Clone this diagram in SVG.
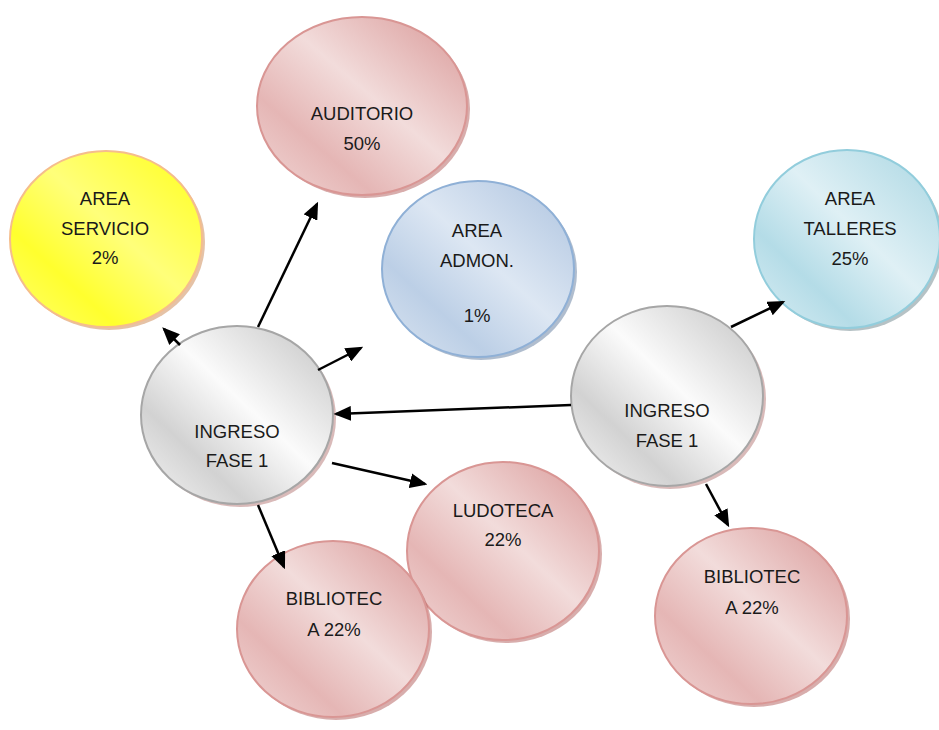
<svg xmlns="http://www.w3.org/2000/svg" width="939" height="730" viewBox="0 0 939 730">
<defs>
<linearGradient id="gPink" x1="1" y1="0" x2="0" y2="1">
<stop offset="0" stop-color="#d99897"/>
<stop offset="0.45" stop-color="#f2dcdb"/>
<stop offset="0.72" stop-color="#e5b6b5"/>
<stop offset="1" stop-color="#f1d8d7"/>
</linearGradient>
<linearGradient id="gGray" x1="1" y1="0" x2="0" y2="1">
<stop offset="0" stop-color="#c2c2c2"/>
<stop offset="0.45" stop-color="#fbfbfb"/>
<stop offset="0.72" stop-color="#d2d2d2"/>
<stop offset="1" stop-color="#f6f6f6"/>
</linearGradient>
<linearGradient id="gYellow" x1="1" y1="0" x2="0" y2="1">
<stop offset="0" stop-color="#ffff1a"/>
<stop offset="0.45" stop-color="#ffff7a"/>
<stop offset="0.72" stop-color="#ffff2e"/>
<stop offset="1" stop-color="#ffff6e"/>
</linearGradient>
<linearGradient id="gBlue" x1="1" y1="0" x2="0" y2="1">
<stop offset="0" stop-color="#adc3df"/>
<stop offset="0.45" stop-color="#dde7f3"/>
<stop offset="0.72" stop-color="#bccfe6"/>
<stop offset="1" stop-color="#dbe5f1"/>
</linearGradient>
<linearGradient id="gTeal" x1="1" y1="0" x2="0" y2="1">
<stop offset="0" stop-color="#a9d6e2"/>
<stop offset="0.45" stop-color="#dff0f5"/>
<stop offset="0.72" stop-color="#b4dce7"/>
<stop offset="1" stop-color="#dbeef4"/>
</linearGradient>
<marker id="ah" viewBox="0 0 7 6" refX="6" refY="3" markerWidth="7" markerHeight="6" orient="auto" markerUnits="strokeWidth">
<path d="M0,0 L7,3 L0,6 z" fill="#000"/>
</marker>
<style>
.pink{fill:url(#gPink);stroke:#d99694;stroke-width:2}
.gray{fill:url(#gGray);stroke:#a6a6a6;stroke-width:2}
.yellow{fill:url(#gYellow);stroke:#f5bd8c;stroke-width:2}
.blue{fill:url(#gBlue);stroke:#8fb0d6;stroke-width:2}
.teal{fill:url(#gTeal);stroke:#92cddc;stroke-width:2}
.sh-pink{fill:#b86a68;opacity:0.55}
.sh-gray{fill:#c08c8a;opacity:0.6}
.sh-yellow{fill:#d39a6a;opacity:0.6}
.sh-blue{fill:#6f86a6;opacity:0.55}
.sh-teal{fill:#7a8f95;opacity:0.55}
text{font-family:"Liberation Sans",Arial,sans-serif;font-size:18.5px;fill:#1a1a1a;text-anchor:middle}
.conn line{stroke:#000;stroke-width:2.5;marker-end:url(#ah)}
</style>
</defs>
<rect width="939" height="730" fill="#fff"/>

<g id="auditorio">
<ellipse class="sh-pink" cx="365" cy="109" rx="105" ry="89"/>
<ellipse class="pink" cx="362" cy="106" rx="105" ry="89"/>
<text x="362" y="120">AUDITORIO</text>
<text x="362" y="150">50%</text>
</g>

<g id="area-servicio">
<ellipse class="sh-yellow" cx="109" cy="242" rx="96" ry="88"/>
<ellipse class="yellow" cx="106" cy="239" rx="96" ry="88"/>
<text x="105" y="205">AREA</text>
<text x="105" y="235">SERVICIO</text>
<text x="105" y="264">2%</text>
</g>

<g id="area-admon">
<ellipse class="sh-blue" cx="481" cy="272" rx="96" ry="88"/>
<ellipse class="blue" cx="478" cy="269" rx="96" ry="88"/>
<text x="477" y="237">AREA</text>
<text x="477" y="267">ADMON.</text>
<text x="477" y="322">1%</text>
</g>

<g id="area-talleres">
<ellipse class="sh-teal" cx="850" cy="242" rx="93" ry="89"/>
<ellipse class="teal" cx="847" cy="239" rx="93" ry="89"/>
<text x="850" y="205">AREA</text>
<text x="850" y="235">TALLERES</text>
<text x="850" y="265">25%</text>
</g>

<g id="ingreso-1">
<ellipse class="sh-gray" cx="240" cy="418" rx="96" ry="89"/>
<ellipse class="gray" cx="237" cy="415" rx="96" ry="89"/>
<text x="237" y="438">INGRESO</text>
<text x="237" y="467">FASE 1</text>
</g>

<g id="ingreso-2">
<ellipse class="sh-gray" cx="670" cy="399" rx="96" ry="90"/>
<ellipse class="gray" cx="667" cy="396" rx="96" ry="90"/>
<text x="667" y="417">INGRESO</text>
<text x="667" y="447">FASE 1</text>
</g>

<g id="ludoteca">
<ellipse class="sh-pink" cx="506" cy="554" rx="96" ry="89"/>
<ellipse class="pink" cx="503" cy="551" rx="96" ry="89"/>
<text x="503" y="517">LUDOTECA</text>
<text x="503" y="546">22%</text>
</g>

<g id="biblioteca-1">
<ellipse class="sh-pink" cx="336" cy="632" rx="96" ry="88"/>
<ellipse class="pink" cx="333" cy="629" rx="96" ry="88"/>
<text x="334" y="605">BIBLIOTEC</text>
<text x="334" y="636">A 22%</text>
</g>

<g id="biblioteca-2">
<ellipse class="sh-pink" cx="754" cy="619" rx="96" ry="88"/>
<ellipse class="pink" cx="751" cy="616" rx="96" ry="88"/>
<text x="752" y="583">BIBLIOTEC</text>
<text x="752" y="614">A 22%</text>
</g>

<g id="connectors" class="conn">
<line x1="258" y1="327" x2="317" y2="204"/>
<line x1="180" y1="345" x2="164" y2="329"/>
<line x1="318" y1="370" x2="361" y2="348"/>
<line x1="571" y1="405" x2="336" y2="414"/>
<line x1="332" y1="463" x2="425" y2="484"/>
<line x1="258" y1="505" x2="284" y2="567"/>
<line x1="706" y1="484" x2="728" y2="525"/>
<line x1="731" y1="327" x2="783" y2="302"/>
</g>
</svg>
